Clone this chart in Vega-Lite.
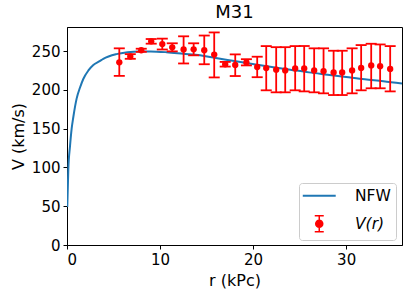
{
  "$schema": "https://vega.github.io/schema/vega-lite/v6.json",
  "width": 335,
  "height": 218,
  "autosize": {"type": "none"},
  "padding": {"left": 67, "top": 27, "right": 6, "bottom": 56},
  "title": {"text": "M31", "fontSize": 18, "font": "DejaVu Sans", "fontWeight": "normal", "color": "black", "offset": 5},
  "config": {
    "font": "DejaVu Sans",
    "view": {"stroke": "black", "strokeWidth": 1},
    "axis": {"grid": false, "domainColor": "black", "tickColor": "black", "labelColor": "black", "titleColor": "black", "labelFontSize": 15, "titleFontSize": 16, "titleFontWeight": "normal", "tickSize": 4, "labelFont": "DejaVu Sans", "titleFont": "DejaVu Sans"}
  },
  "datasets": {
    "curve": [
      {"r": 0.03, "V": 49, "series": "NFW"},
      {"r": 0.14, "V": 97, "series": "NFW"},
      {"r": 0.32, "V": 127, "series": "NFW"},
      {"r": 0.5, "V": 150, "series": "NFW"},
      {"r": 0.68, "V": 165, "series": "NFW"},
      {"r": 1.04, "V": 189, "series": "NFW"},
      {"r": 1.4, "V": 203, "series": "NFW"},
      {"r": 1.75, "V": 214, "series": "NFW"},
      {"r": 2.3, "V": 225, "series": "NFW"},
      {"r": 2.83, "V": 232, "series": "NFW"},
      {"r": 3.5, "V": 237, "series": "NFW"},
      {"r": 3.9, "V": 240, "series": "NFW"},
      {"r": 5.3, "V": 246, "series": "NFW"},
      {"r": 6.5, "V": 248.5, "series": "NFW"},
      {"r": 7.8, "V": 249.5, "series": "NFW"},
      {"r": 9, "V": 249.5, "series": "NFW"},
      {"r": 10.7, "V": 248.5, "series": "NFW"},
      {"r": 12.5, "V": 246.5, "series": "NFW"},
      {"r": 14.3, "V": 244.5, "series": "NFW"},
      {"r": 16, "V": 241, "series": "NFW"},
      {"r": 17.8, "V": 237.5, "series": "NFW"},
      {"r": 19.6, "V": 234, "series": "NFW"},
      {"r": 22, "V": 229.5, "series": "NFW"},
      {"r": 24, "V": 226, "series": "NFW"},
      {"r": 26, "V": 222.5, "series": "NFW"},
      {"r": 28, "V": 219.5, "series": "NFW"},
      {"r": 30, "V": 216.5, "series": "NFW"},
      {"r": 32, "V": 213.5, "series": "NFW"},
      {"r": 34, "V": 211, "series": "NFW"},
      {"r": 36, "V": 208, "series": "NFW"}
    ],
    "obs": [
      {"r": 5.62, "V": 235.5, "lo": 218, "hi": 253.5},
      {"r": 6.80, "V": 243, "lo": 240, "hi": 246},
      {"r": 7.98, "V": 251, "lo": 249, "hi": 253},
      {"r": 9.05, "V": 262.5, "lo": 259.5, "hi": 265.5},
      {"r": 10.24, "V": 259, "lo": 252, "hi": 266},
      {"r": 11.31, "V": 254.8, "lo": 249.6, "hi": 260},
      {"r": 12.53, "V": 252, "lo": 234, "hi": 269},
      {"r": 13.61, "V": 252.2, "lo": 244.5, "hi": 260},
      {"r": 14.75, "V": 251, "lo": 233, "hi": 270},
      {"r": 15.82, "V": 245.5, "lo": 216, "hi": 274},
      {"r": 17.00, "V": 233, "lo": 230, "hi": 236},
      {"r": 18.08, "V": 232, "lo": 217.8, "hi": 245.7},
      {"r": 19.28, "V": 235.4, "lo": 231.5, "hi": 239.5},
      {"r": 20.44, "V": 229.4, "lo": 216.3, "hi": 242.7},
      {"r": 21.41, "V": 228, "lo": 199.4, "hi": 256.4},
      {"r": 22.48, "V": 226, "lo": 196.8, "hi": 255},
      {"r": 23.45, "V": 225, "lo": 196.8, "hi": 255},
      {"r": 24.52, "V": 227.5, "lo": 199.4, "hi": 256.4},
      {"r": 25.49, "V": 227.5, "lo": 198, "hi": 256.5},
      {"r": 26.56, "V": 225, "lo": 196.8, "hi": 253.5},
      {"r": 27.57, "V": 224, "lo": 195.5, "hi": 253.5},
      {"r": 28.65, "V": 222.5, "lo": 193.3, "hi": 250.4},
      {"r": 29.57, "V": 222.5, "lo": 193.3, "hi": 250.4},
      {"r": 30.64, "V": 225, "lo": 195.5, "hi": 253.5},
      {"r": 31.61, "V": 228.3, "lo": 199.4, "hi": 257.7},
      {"r": 32.69, "V": 231.5, "lo": 202, "hi": 259.4},
      {"r": 33.65, "V": 230.5, "lo": 202, "hi": 258.5},
      {"r": 34.73, "V": 227, "lo": 198, "hi": 256.4}
    ]
  },
  "layer": [
    {
      "data": {"name": "curve"},
      "mark": {"type": "line", "strokeWidth": 2, "interpolate": "monotone", "clip": true},
      "encoding": {
        "x": {"field": "r", "type": "quantitative", "scale": {"domain": [0, 36], "nice": false}, "axis": {"title": "r (kPc)", "values": [0, 10, 20, 30], "labelPadding": 3, "titlePadding": 5}},
        "y": {"field": "V", "type": "quantitative", "scale": {"domain": [0, 281], "nice": false}, "axis": {"title": "V (km/s)", "values": [0, 50, 100, 150, 200, 250], "labelPadding": 3, "titlePadding": 5}},
        "color": {
          "field": "series", "type": "nominal",
          "scale": {"domain": ["NFW", "V(r)"], "range": ["#1f77b4", "red"]},
          "legend": {
            "title": null, "orient": "none", "legendX": 232, "legendY": 156,
            "padding": 5, "fillColor": "rgba(255,255,255,0.8)", "strokeColor": "#cccccc", "cornerRadius": 3,
            "labelFontSize": 15.5, "labelColor": "black", "labelFont": "DejaVu Sans",
            "symbolSize": 324, "symbolOffset": 7.5, "labelOffset": 28, "rowPadding": 7, "symbolStrokeWidth": 2,
            "encode": {
              "symbols": {"update": {
                "shape": {"signal": "datum.value === 'NFW' ? 'M-1.83,0H1.83' : 'M0,-0.89V0.89M-0.5,-0.89H0.5M-0.5,0.89H0.5M-0.39,0A0.39,0.39 0 1,0 0.39,0A0.39,0.39 0 1,0 -0.39,0Z'"},
                "fill": {"signal": "datum.value === 'NFW' ? 'transparent' : 'red'"},
                "stroke": {"signal": "datum.value === 'NFW' ? '#1f77b4' : 'red'"},
                "strokeWidth": {"signal": "datum.value === 'NFW' ? 2 : 1.5"},
                "opacity": {"value": 1}
              }},
              "labels": {"update": {
                "fontStyle": {"signal": "datum.value === 'V(r)' ? 'italic' : 'normal'"}
              }}
            }
          }
        }
      }
    },
    {
      "data": {"name": "obs"},
      "mark": {"type": "rule", "color": "red", "strokeWidth": 1.8},
      "encoding": {
        "x": {"field": "r", "type": "quantitative"},
        "y": {"field": "lo", "type": "quantitative"},
        "y2": {"field": "hi"}
      }
    },
    {
      "data": {"name": "obs"},
      "mark": {"type": "tick", "orient": "horizontal", "color": "red", "size": 11, "thickness": 1.8, "opacity": 1},
      "encoding": {
        "x": {"field": "r", "type": "quantitative"},
        "y": {"field": "lo", "type": "quantitative"}
      }
    },
    {
      "data": {"name": "obs"},
      "mark": {"type": "tick", "orient": "horizontal", "color": "red", "size": 11, "thickness": 1.8, "opacity": 1},
      "encoding": {
        "x": {"field": "r", "type": "quantitative"},
        "y": {"field": "hi", "type": "quantitative"}
      }
    },
    {
      "data": {"name": "obs"},
      "mark": {"type": "point", "shape": "circle", "filled": true, "color": "red", "size": 40, "opacity": 1},
      "encoding": {
        "x": {"field": "r", "type": "quantitative"},
        "y": {"field": "V", "type": "quantitative"}
      }
    }
  ]
}
